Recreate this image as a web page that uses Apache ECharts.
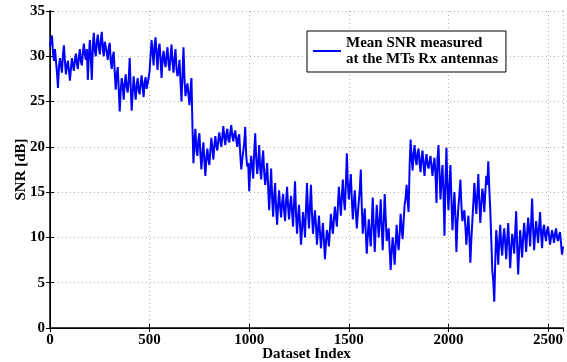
<!DOCTYPE html>
<html>
<head>
    <meta charset="utf-8">
    <title>SNR</title>
    <script src="https://cdn.jsdelivr.net/npm/echarts@6/dist/echarts.min.js"></script>
</head>
<body style="margin:0">
<div id="main" style="width:567px;height:362px;"></div>
<script type="text/javascript">
    // x axis: dataset index; snr holds entries 0,10,20,... and snrMid entries 5,15,25,...
    var step = 10
    var xMax = 2575
    var seriesName = 'Mean SNR measured\nat the MTs Rx antennas'

    // mean SNR [dB]
    var snr = [
        31.0, 32.3, 29.5, 30.6, 26.5, 29.8, 28.2, 31.2, 28.0, 29.5,
        27.3, 29.8, 28.4, 30.3, 28.6, 30.8, 29.0, 31.4, 29.6, 27.4,
        31.8, 27.4, 32.6, 30.0, 32.4, 30.2, 32.7, 30.0, 31.8, 29.6,
        31.5, 28.6, 30.5, 26.3, 28.8, 23.9, 27.6, 25.2, 28.0, 26.0,
        29.8, 24.0, 27.8, 25.2, 27.6, 25.8, 27.9, 25.5, 27.7, 26.2,
        28.4, 31.8, 29.0, 32.1, 28.5, 31.4, 27.6, 30.6, 28.8, 31.0,
        28.4, 31.3, 28.2, 30.8, 27.8, 29.6, 25.0, 31.0, 25.6, 27.0,
        24.6, 27.6, 18.2, 22.0, 19.0, 21.5, 17.5, 20.5, 16.8, 19.8,
        18.0, 21.0, 18.6, 21.2, 19.6, 21.6, 20.0, 22.3, 20.2, 22.0,
        20.5, 22.4, 20.6, 21.8, 20.0, 21.4, 17.5, 19.5, 22.2, 17.8,
        15.1, 19.0, 16.5, 21.5, 17.0, 20.2, 16.4, 19.6, 15.8, 18.2,
        13.0, 17.6, 12.3, 16.0, 11.4, 15.2, 12.2, 14.8, 11.8, 15.6,
        12.0, 14.6, 11.2, 16.2, 10.4, 13.6, 9.2, 12.8, 10.0, 16.0,
        11.0, 15.8, 10.4, 13.0, 9.2, 12.4, 8.8, 11.6, 7.6, 10.8,
        9.0, 12.6, 10.4, 13.4, 11.2, 15.6, 12.4, 16.4, 13.0, 19.3,
        14.2, 17.0, 12.0, 15.2, 11.0, 14.0, 17.5, 10.4, 13.2, 8.2,
        12.0, 9.0, 14.4, 8.4, 13.6, 10.0, 14.2, 8.6, 14.8, 9.6,
        11.0, 6.4, 10.0, 7.0, 11.4, 8.6, 12.6, 9.8, 13.6, 15.8,
        12.8, 20.8, 17.4, 20.2, 18.0, 19.8, 17.2, 19.6, 16.8, 19.2,
        17.6, 19.0, 16.8, 18.8, 13.8, 20.2, 14.2, 18.0, 10.2, 19.9,
        13.0, 18.0, 10.8, 15.0, 8.4, 13.4, 16.4, 11.8, 13.0, 9.2,
        12.4, 7.2, 11.8, 16.0, 12.6, 17.0, 11.6, 15.4, 12.8, 16.8,
        18.4, 13.0, 6.4, 2.9, 10.8, 7.0, 11.4, 8.0, 11.0, 7.6,
        11.6, 6.6, 10.4, 8.2, 12.9, 5.9, 10.8, 7.8, 11.6, 8.4,
        12.2, 9.0, 14.3, 8.6, 11.8, 9.4, 12.8, 8.8, 11.4, 9.6,
        11.2, 9.2, 10.8, 9.4, 11.0, 9.6, 10.6, 8.1
    ]
    var snrMid = [
        31.8, 30.4, 30.8, 28.2, 28.8, 29.0, 30.2, 29.4, 29.0, 28.4,
        28.6, 29.0, 29.6, 29.2, 30.0, 29.4, 30.4, 30.2, 30.8, 30.0,
        29.8, 31.2, 30.6, 31.6, 31.0, 31.8, 30.8, 31.6, 30.4, 31.0,
        29.4, 30.0, 28.2, 28.0, 26.4, 26.2, 26.8, 27.0, 26.6, 27.4,
        26.6, 26.0, 26.4, 26.8, 26.2, 27.0, 26.6, 27.2, 26.4, 27.6,
        30.2, 30.4, 31.2, 30.0, 30.8, 29.6, 29.8, 29.4, 30.2, 29.2,
        30.0, 29.4, 29.8, 28.6, 28.4, 27.2, 27.8, 27.6, 26.4, 25.8,
        26.2, 22.4, 20.6, 19.6, 20.8, 19.2, 19.4, 18.4, 18.8, 18.6,
        19.6, 19.8, 20.2, 20.0, 20.8, 20.6, 21.2, 21.0, 21.4, 20.8,
        21.6, 21.2, 21.4, 20.8, 21.0, 19.2, 18.6, 20.4, 19.0, 18.2,
        17.6, 17.8, 19.4, 18.8, 18.2, 17.6, 18.4, 17.2, 16.8, 15.6,
        15.2, 14.4, 14.6, 13.2, 13.6, 13.4, 13.8, 13.0, 14.0, 13.4,
        13.6, 12.8, 13.8, 12.6, 12.2, 11.4, 11.0, 11.6, 13.2, 12.8,
        13.6, 12.6, 11.8, 11.4, 10.8, 10.6, 10.2, 9.8, 9.4, 10.2,
        10.8, 11.4, 12.0, 12.2, 13.4, 14.0, 14.6, 14.2, 15.8, 16.0,
        15.6, 14.2, 13.8, 13.0, 12.6, 15.2, 13.4, 12.0, 10.6, 10.2,
        10.4, 11.6, 11.2, 11.0, 11.8, 12.0, 11.2, 11.6, 12.2, 10.4,
        8.6, 8.4, 8.8, 9.2, 9.6, 10.4, 11.0, 11.8, 14.4, 14.0,
        17.8, 19.0, 19.2, 18.6, 19.4, 18.2, 18.8, 18.0, 18.4, 18.0,
        18.4, 17.8, 18.0, 17.0, 18.6, 17.2, 16.4, 15.0, 16.2, 15.4,
        15.8, 14.2, 13.0, 12.4, 11.6, 14.8, 13.6, 12.6, 11.2, 10.8,
        10.2, 9.8, 13.8, 14.2, 14.8, 14.0, 13.6, 14.6, 15.0, 15.8,
        15.4, 9.8, 5.2, 7.4, 9.2, 9.6, 9.0, 10.0, 9.4, 9.8,
        9.2, 8.8, 9.6, 10.6, 9.0, 8.6, 9.4, 10.0, 10.2, 10.4,
        10.8, 11.6, 11.0, 10.4, 10.6, 11.2, 10.4, 10.8, 10.2, 10.8,
        10.2, 10.0, 10.2, 10.4, 10.0, 10.2, 9.4, 9.0
    ]

    var data = []
    snr.forEach(function (v, i) {
        data.push([i * step, v])
        data.push([Math.min(i * step + step / 2, xMax), snrMid[i]])
    })

    var font = 'Liberation Serif'
    var labelStyle = {color: '#000', fontFamily: font, fontWeight: 'bold', fontSize: 15}
    var gridLine = {show: true, lineStyle: {color: '#b0b0b0', type: [1, 3], width: 1}}

    var myChart = echarts.init(document.getElementById('main'))
    var option = {
        animation: false,
        grid: {left: 50, right: 4, top: 11, bottom: 34, outerBoundsMode: 'none', containLabel: false},
        legend: {
            data: [seriesName],
            left: 307,
            top: 31,
            orient: 'vertical',
            backgroundColor: '#fff',
            borderColor: '#000',
            borderWidth: 1,
            padding: [4, 8, 5, 6],
            itemWidth: 28,
            itemHeight: 2,
            itemGap: 0,
            icon: 'rect',
            textStyle: {color: '#000', fontFamily: font, fontWeight: 'bold', fontSize: 15, lineHeight: 16}
        },
        xAxis: [{
            type: 'value',
            min: 0,
            max: xMax,
            interval: 500,
            name: 'Dataset Index',
            nameLocation: 'middle',
            nameGap: 19,
            nameMoveOverlap: false,
            nameTextStyle: labelStyle,
            axisLine: {show: true, onZero: false, lineStyle: {color: '#000', width: 1.5}},
            axisTick: {show: true, inside: true, length: 4, lineStyle: {color: '#000'}},
            axisLabel: Object.assign({margin: 5, showMaxLabel: false, formatter: function (v) { return v }}, labelStyle),
            splitLine: gridLine
        }, {
            type: 'value',
            position: 'top',
            min: 0,
            max: xMax,
            interval: 500,
            axisLine: {show: true, lineStyle: {color: '#000', width: 1}},
            axisTick: {show: true, inside: true, length: 4, lineStyle: {color: '#000'}},
            axisLabel: {show: false},
            splitLine: {show: false}
        }],
        yAxis: [{
            type: 'value',
            min: 0,
            max: 35,
            interval: 5,
            name: 'SNR [dB]',
            nameLocation: 'middle',
            nameGap: 21,
            nameMoveOverlap: false,
            nameTextStyle: labelStyle,
            axisLine: {show: true, lineStyle: {color: '#000', width: 1.5}},
            axisTick: {show: true, inside: true, length: 4, lineStyle: {color: '#000'}},
            axisLabel: Object.assign({margin: 5}, labelStyle),
            splitLine: gridLine
        }, {
            type: 'value',
            position: 'right',
            min: 0,
            max: 35,
            interval: 5,
            axisLine: {show: true, lineStyle: {color: '#000', width: 1}},
            axisTick: {show: true, inside: true, length: 4, lineStyle: {color: '#000'}},
            axisLabel: {show: false},
            splitLine: {show: false}
        }],
        series: [{
            name: seriesName,
            type: 'line',
            data: data,
            showSymbol: false,
            symbol: 'none',
            color: '#0000ff',
            lineStyle: {color: '#0000ff', width: 2}
        }]
    }
    myChart.setOption(option)
</script>
</body>
</html>
